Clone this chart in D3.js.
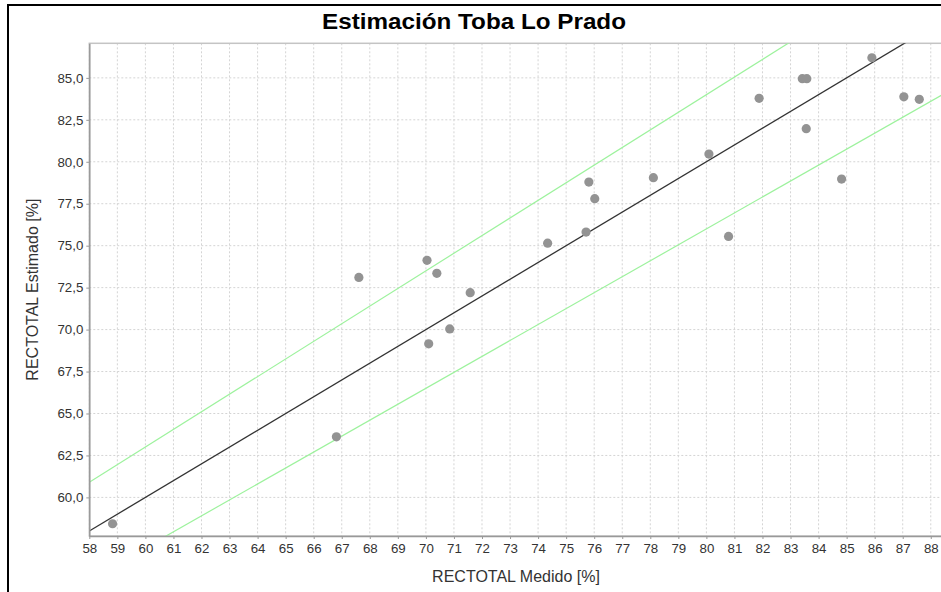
<!DOCTYPE html>
<html>
<head>
<meta charset="utf-8">
<script src="https://cdn.jsdelivr.net/npm/d3@7"></script>
<style>
  body { margin: 0; background: #fff; }
  svg { display: block; font-family: 'Liberation Sans', Arial, sans-serif; }
  .grid line { stroke: #d4d4d4; stroke-dasharray: 2,2; }
  .axis text { fill: #333; font-size: 13.3px; }
  .axis path, .axis line { stroke: #999; }
</style>
</head>
<body>
<div id="chart"></div>
<script>
// measured vs estimated recovery
const medido = [58.83, 66.81, 67.61, 70.04, 70.10, 70.39, 70.85, 71.58, 74.34, 75.71, 75.81, 76.02,
  78.11, 80.09, 80.79, 81.88, 83.42, 83.58, 83.56, 84.82, 85.90, 87.04, 87.59]
const estimado = [58.43, 63.61, 73.11, 74.13, 69.15, 73.35, 70.04, 72.20, 75.15, 75.81, 78.79, 77.80,
  79.05, 80.46, 75.55, 83.78, 84.95, 84.95, 81.97, 78.97, 86.20, 83.87, 83.72]
// reference lines y = k * x
const factores = [1.05, 0.95, 1]
const xTicks = d3.range(58, 89, 1)
const yTicks = [60, 62.5, 65, 67.5, 70, 72.5, 75, 77.5, 80, 82.5, 85]
const xDomain = [58.0, 88.4]
const yDomain = [57.7, 87.06]

const width = 941
const height = 592
const plot = {left: 89.3, top: 43.3, right: 942, bottom: 536}

const svg = d3.select('#chart').append('svg')
  .attr('width', width)
  .attr('height', height)

// outer frame (cropped on the right/bottom)
svg.append('rect')
  .attr('x', 8).attr('y', 5)
  .attr('width', 960).attr('height', 620)
  .attr('fill', '#fff')
  .attr('stroke', '#000')
  .attr('stroke-width', 2)

const x = d3.scaleLinear().domain(xDomain).range([plot.left, plot.right])
const y = d3.scaleLinear().domain(yDomain).range([plot.bottom, plot.top])

svg.append('defs').append('clipPath').attr('id', 'clip')
  .append('rect')
  .attr('x', plot.left).attr('y', plot.top)
  .attr('width', plot.right - plot.left).attr('height', plot.bottom - plot.top)

// grid
const grid = svg.append('g').classed('grid', true)
grid.selectAll('line.v').data(xTicks).enter().append('line')
  .attr('x1', d => x(d)).attr('x2', d => x(d))
  .attr('y1', plot.top).attr('y2', plot.bottom)
grid.selectAll('line.h').data(yTicks).enter().append('line')
  .attr('y1', d => y(d)).attr('y2', d => y(d))
  .attr('x1', plot.left).attr('x2', plot.right)

// plot outline
svg.append('rect')
  .attr('x', plot.left).attr('y', plot.top)
  .attr('width', plot.right - plot.left).attr('height', plot.bottom - plot.top)
  .attr('fill', 'none')
  .attr('stroke', '#c4c4c4')
  .attr('stroke-width', 1.5)

// reference lines
const lines = svg.append('g').attr('clip-path', 'url(#clip)')
lines.selectAll('line').data(factores).enter().append('line')
  .attr('x1', x(xDomain[0])).attr('y1', d => y(d * xDomain[0]))
  .attr('x2', x(xDomain[1])).attr('y2', d => y(d * xDomain[1]))
  .attr('stroke', d => d === 1 ? '#333' : '#9df29d')
  .attr('stroke-width', d => d === 1 ? 1.3 : 1.2)

// points
svg.append('g').selectAll('circle')
  .data(medido.map((m, i) => ({x: m, y: estimado[i]})))
  .enter().append('circle')
  .attr('cx', d => x(d.x))
  .attr('cy', d => y(d.y))
  .attr('r', 4.6)
  .attr('fill', '#939393')

// axes
const fmt = d3.formatLocale({decimal: ',', thousands: '.', grouping: [3], currency: ['', '']}).format('.1f')

const xAxisG = svg.append('g').classed('axis', true)
  .attr('transform', 'translate(0,' + plot.bottom + ')')
  .call(d3.axisBottom(x).tickValues(xTicks).tickFormat(d3.format('d')).tickSizeInner(3).tickSizeOuter(0).tickPadding(5))
xAxisG.select('.domain').attr('stroke', '#999').attr('stroke-width', 1.5)

const yAxisG = svg.append('g').classed('axis', true)
  .attr('transform', 'translate(' + plot.left + ',0)')
  .call(d3.axisLeft(y).tickValues(yTicks).tickFormat(fmt).tickSizeInner(3).tickSizeOuter(0).tickPadding(3))
yAxisG.select('.domain').attr('stroke', '#999').attr('stroke-width', 1.5)

// titles
svg.append('text')
  .attr('x', 474).attr('y', 29)
  .attr('text-anchor', 'middle')
  .attr('font-size', 22)
  .attr('font-weight', 'bold')
  .attr('fill', '#000')
  .attr('textLength', 304)
  .attr('lengthAdjust', 'spacingAndGlyphs')
  .text('Estimación Toba Lo Prado')

svg.append('text')
  .attr('x', 516).attr('y', 582)
  .attr('text-anchor', 'middle')
  .attr('font-size', 16)
  .attr('fill', '#333')
  .text('RECTOTAL Medido [%]')

svg.append('text')
  .attr('transform', 'translate(38,' + ((plot.top + plot.bottom) / 2) + ') rotate(-90)')
  .attr('text-anchor', 'middle')
  .attr('font-size', 16)
  .attr('fill', '#333')
  .text('RECTOTAL Estimado [%]')
</script>
</body>
</html>
